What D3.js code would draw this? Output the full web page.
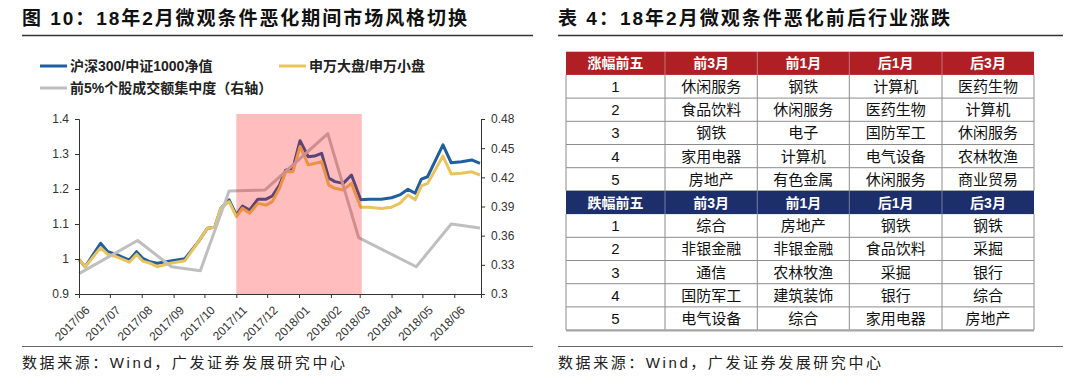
<!DOCTYPE html>
<html>
<head>
<meta charset="utf-8">
<script src="https://cdn.jsdelivr.net/npm/d3@7"></script>
<style>
  body { margin: 0; background: #fff; }
  svg text { font-family: "Liberation Sans", "Noto Sans CJK SC", sans-serif; }
</style>
</head>
<body>
<script>
// chart data
var dates = ["2017-06-01","2017-06-07","2017-06-22","2017-06-29","2017-07-07","2017-07-20","2017-07-27",
  "2017-08-02","2017-08-09","2017-08-16","2017-08-29","2017-09-12","2017-09-25","2017-10-04","2017-10-11",
  "2017-10-17","2017-10-25","2017-11-01","2017-11-07","2017-11-14","2017-11-22","2017-11-30","2017-12-06",
  "2017-12-13","2017-12-19","2017-12-26","2018-01-02","2018-01-10","2018-01-16","2018-01-23","2018-01-30",
  "2018-02-05","2018-02-13","2018-02-21","2018-03-02","2018-03-10","2018-03-22","2018-04-01","2018-04-09",
  "2018-04-17","2018-04-24","2018-04-30","2018-05-06","2018-05-21","2018-05-29","2018-06-08","2018-06-18",
  "2018-06-26"];
var hs300 = [0.999,0.978,1.045,1.021,1.013,0.997,1.021,1.002,0.992,0.988,0.994,1.001,1.049,1.088,1.091,
  1.145,1.169,1.126,1.151,1.140,1.171,1.171,1.180,1.211,1.254,1.259,1.338,1.292,1.294,1.302,1.231,
  1.221,1.216,1.240,1.169,1.171,1.171,1.175,1.183,1.199,1.188,1.228,1.235,1.326,1.275,1.278,1.283,1.273];
var swBig = [0.999,0.978,1.032,1.013,1.007,0.991,1.013,0.994,0.988,0.978,0.988,0.995,1.049,1.088,1.091,
  1.145,1.164,1.121,1.145,1.131,1.159,1.154,1.164,1.202,1.249,1.249,1.321,1.269,1.273,1.278,1.211,
  1.202,1.197,1.216,1.148,1.148,1.144,1.148,1.159,1.183,1.169,1.209,1.216,1.294,1.243,1.245,1.249,1.240];
var concDates = ["2017-06-01","2017-07-28","2017-08-30","2017-09-27","2017-10-25","2017-11-29",
  "2018-01-29","2018-02-28","2018-04-25","2018-05-29","2018-06-26"];
var conc = [0.321,0.355,0.328,0.324,0.406,0.407,0.465,0.358,0.328,0.372,0.368];

var monthTicks = ["2017/06","2017/07","2017/08","2017/09","2017/10","2017/11","2017/12",
  "2018/01","2018/02","2018/03","2018/04","2018/05","2018/06"];
var leftTicks = [0.9, 1, 1.1, 1.2, 1.3, 1.4];
var rightTicks = [0.3, 0.33, 0.36, 0.39, 0.42, 0.45, 0.48];
var shadeSpan = ["2017-11-01", "2018-03-03"];
var legendNames = ["沪深300/中证1000净值", "申万大盘/申万小盘", "前5%个股成交额集中度（右轴）"];

// table data
var tableCols = ["前3月", "前1月", "后1月", "后3月"];
var riseRows = [
  ["休闲服务","钢铁","计算机","医药生物"],
  ["食品饮料","休闲服务","医药生物","计算机"],
  ["钢铁","电子","国防军工","休闲服务"],
  ["家用电器","计算机","电气设备","农林牧渔"],
  ["房地产","有色金属","休闲服务","商业贸易"]];
var fallRows = [
  ["综合","房地产","钢铁","钢铁"],
  ["非银金融","非银金融","食品饮料","采掘"],
  ["通信","农林牧渔","采掘","银行"],
  ["国防军工","建筑装饰","银行","综合"],
  ["电气设备","综合","家用电器","房地产"]];

var W = 1080, H = 385;
var svg = d3.select("body").append("svg")
    .attr("width", W)
    .attr("height", H);

var parse = d3.timeParse("%Y-%m-%d");
var parseMonth = d3.timeParse("%Y/%m");

// titles, rules, footers
var heads = [
  {text: "图 10：18年2月微观条件恶化期间市场风格切换", x: 22, len: 445, x2: 533},
  {text: "表 4：18年2月微观条件恶化前后行业涨跌", x: 558, len: 392, x2: 1063}
];
heads.forEach(function(h){
  svg.append("text")
    .attr("x", h.x).attr("y", 25)
    .attr("font-size", "19px").attr("font-weight", "bold")
    .attr("fill", "#111")
    .attr("textLength", h.len).attr("lengthAdjust", "spacing")
    .text(h.text);
  svg.append("line")
    .attr("x1", h.x).attr("x2", h.x2).attr("y1", 35.5).attr("y2", 35.5)
    .attr("stroke", "#333").attr("stroke-width", 1.5);
  svg.append("line")
    .attr("x1", h.x).attr("x2", h.x2).attr("y1", 346.5).attr("y2", 346.5)
    .attr("stroke", "#666").attr("stroke-width", 1.2);
  svg.append("text")
    .attr("x", h.x).attr("y", 368)
    .attr("font-size", "15px").attr("fill", "#222")
    .attr("textLength", 323).attr("lengthAdjust", "spacing")
    .text("数据来源：Wind，广发证券发展研究中心");
});

// ---- left chart ----
var x = d3.scaleTime().domain([parse("2017-06-01"), parse("2018-06-27")]).range([79, 481]);
var yL = d3.scaleLinear().domain([0.9, 1.4]).range([294, 119]);
var yR = d3.scaleLinear().domain([0.3, 0.48]).range([294, 119]);

var colors = ["#1f5f9f", "#e9c45e", "#bfbfbf"];

var lineL = d3.line()
  .x(function(d){ return x(d.date); })
  .y(function(d){ return yL(d.v); });
var lineR = d3.line()
  .x(function(d){ return x(d.date); })
  .y(function(d){ return yR(d.v); });

var s1 = dates.map(function(d, i){ return {date: parse(d), v: hs300[i]}; });
var s2 = dates.map(function(d, i){ return {date: parse(d), v: swBig[i]}; });
var s3 = concDates.map(function(d, i){ return {date: parse(d), v: conc[i]}; });

svg.append("path").datum(s1).attr("d", lineL)
  .attr("fill", "none").attr("stroke", colors[0]).attr("stroke-width", 3).attr("stroke-linejoin", "round");
svg.append("path").datum(s2).attr("d", lineL)
  .attr("fill", "none").attr("stroke", colors[1]).attr("stroke-width", 3).attr("stroke-linejoin", "round");
svg.append("path").datum(s3).attr("d", lineR)
  .attr("fill", "none").attr("stroke", colors[2]).attr("stroke-width", 3).attr("stroke-linejoin", "round");

// pink period band, on top of the lines like the original
svg.append("rect")
  .attr("x", x(parse(shadeSpan[0])))
  .attr("width", x(parse(shadeSpan[1])) - x(parse(shadeSpan[0])))
  .attr("y", 114).attr("height", yL(0.9) - 114)
  .attr("fill", "#ff0000").attr("fill-opacity", 0.26);

// axes
var axisL = d3.axisLeft(yL).tickValues(leftTicks).tickSize(4).tickPadding(6)
  .tickFormat(function(d){ return String(+d.toFixed(2)); });
var axisR = d3.axisRight(yR).tickValues(rightTicks).tickSize(4).tickPadding(6)
  .tickFormat(function(d){ return String(+d.toFixed(2)); });
var axisB = d3.axisBottom(x)
  .tickValues(monthTicks.map(function(m){ return parseMonth(m); }))
  .tickSize(4).tickFormat(d3.timeFormat("%Y/%m"));

var gL = svg.append("g").attr("transform", "translate(79,0)").call(axisL);
var gR = svg.append("g").attr("transform", "translate(481,0)").call(axisR);
var gB = svg.append("g").attr("transform", "translate(0,294)").call(axisB);

[gL, gR, gB].forEach(function(g){
  g.select(".domain").attr("stroke", "#333");
  g.selectAll(".tick line").attr("stroke", "#333");
  g.selectAll("text").attr("font-size", "12px").attr("fill", "#333")
    .attr("font-family", "Liberation Sans, sans-serif");
});
gB.selectAll("text")
  .attr("text-anchor", "end")
  .attr("dy", "0.35em")
  .attr("transform", "translate(3,9) rotate(-45)");

// legend
var legend = [
  {x: 40, y: 66}, {x: 279, y: 66}, {x: 40, y: 88}
];
legend.forEach(function(p, i){
  svg.append("line")
    .attr("x1", p.x).attr("x2", p.x + 27).attr("y1", p.y).attr("y2", p.y)
    .attr("stroke", colors[i]).attr("stroke-width", 3);
  svg.append("text")
    .attr("x", p.x + 30).attr("y", p.y).attr("dy", "0.36em")
    .attr("font-size", "14px").attr("font-weight", "bold").attr("fill", "#222")
    .text(legendNames[i]);
});

// ---- right table ----
var colEdges = [566, 665, 757.3, 849.3, 942, 1034];
var top0 = 51.7, rowH = 23.2;
var blocks = [
  {label: "涨幅前五", fill: "#b01f24", rows: riseRows},
  {label: "跌幅前五", fill: "#1c2f6b", rows: fallRows}
];
var tbl = svg.append("g");
var r = 0;
blocks.forEach(function(b){
  var hy = top0 + r * rowH;
  var header = [b.label].concat(tableCols);
  tbl.append("rect")
    .attr("x", colEdges[0]).attr("y", hy)
    .attr("width", colEdges[5] - colEdges[0]).attr("height", rowH)
    .attr("fill", b.fill);
  tbl.selectAll(null).data(header).enter().append("text")
    .attr("x", function(d, i){ return (colEdges[i] + colEdges[i + 1]) / 2; })
    .attr("y", hy + rowH / 2).attr("dy", "0.36em")
    .attr("text-anchor", "middle")
    .attr("font-size", "14px").attr("font-weight", "bold").attr("fill", "#fff")
    .text(function(d){ return d; });
  tbl.selectAll(null).data(colEdges.slice(1, 5)).enter().append("line")
    .attr("x1", function(d){ return d; }).attr("x2", function(d){ return d; })
    .attr("y1", hy).attr("y2", hy + rowH)
    .attr("stroke", "#d9d9d9").attr("stroke-opacity", 0.6).attr("stroke-width", 0.8);
  r++;
  b.rows.forEach(function(row, k){
    var ry = top0 + r * rowH;
    var cells = [String(k + 1)].concat(row);
    tbl.selectAll(null).data(cells).enter().append("text")
      .attr("x", function(d, i){ return (colEdges[i] + colEdges[i + 1]) / 2; })
      .attr("y", ry + rowH / 2).attr("dy", "0.36em")
      .attr("text-anchor", "middle")
      .attr("font-size", "15px").attr("fill", "#111")
      .text(function(d){ return d; });
    tbl.append("line")
      .attr("x1", colEdges[0]).attr("x2", colEdges[5])
      .attr("y1", ry + rowH).attr("y2", ry + rowH)
      .attr("stroke", "#8c8c8c").attr("stroke-width", 1);
    tbl.selectAll(null).data(colEdges).enter().append("line")
      .attr("x1", function(d){ return d; }).attr("x2", function(d){ return d; })
      .attr("y1", ry).attr("y2", ry + rowH)
      .attr("stroke", "#8c8c8c").attr("stroke-width", 1);
    r++;
  });
});
// bottom edge of the table
tbl.append("line")
  .attr("x1", colEdges[0]).attr("x2", colEdges[5])
  .attr("y1", top0 + r * rowH + 0.5).attr("y2", top0 + r * rowH + 0.5)
  .attr("stroke", "#a6a6a6").attr("stroke-width", 2);
</script>
</body>
</html>
